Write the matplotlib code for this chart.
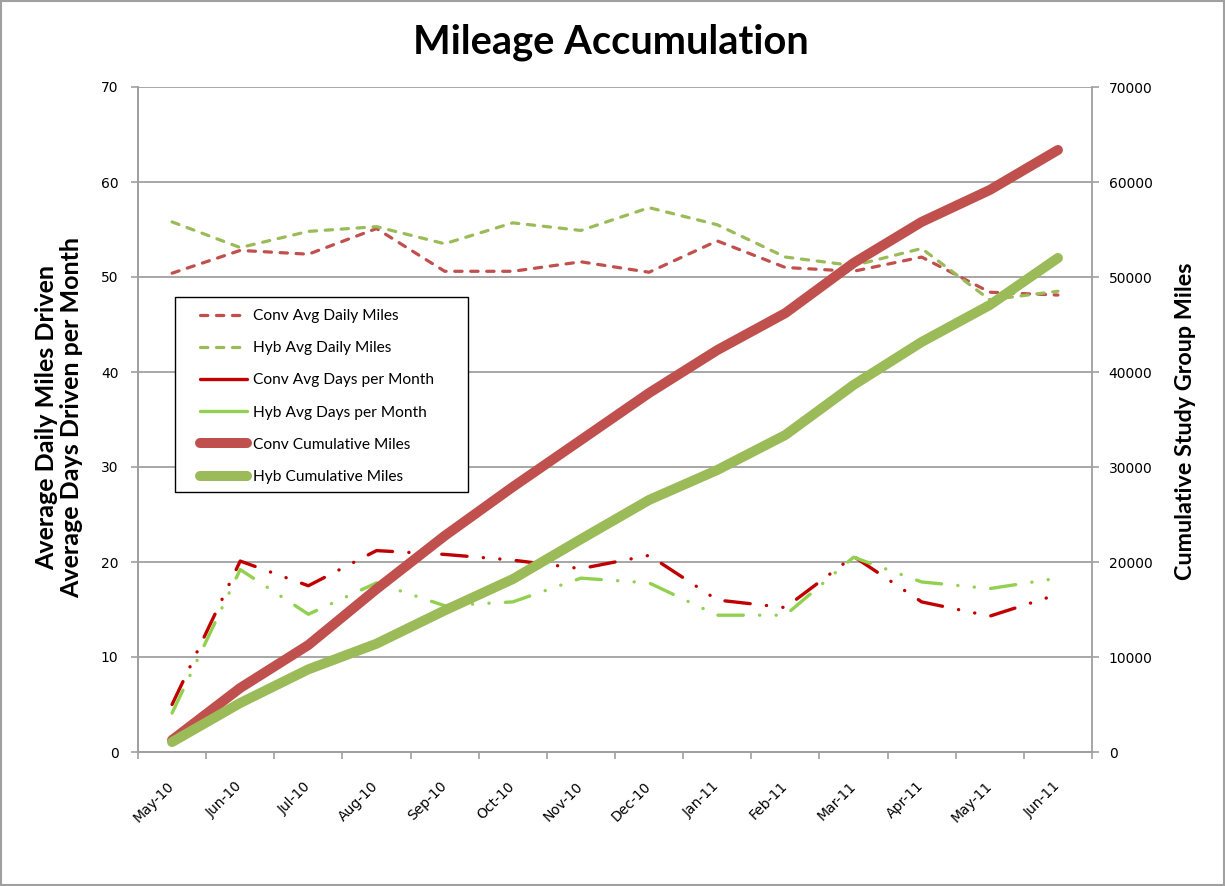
import matplotlib
matplotlib.use("Agg")
import matplotlib.pyplot as plt
from matplotlib.lines import Line2D
from matplotlib.patches import Rectangle
import numpy as np

months = ["May-10", "Jun-10", "Jul-10", "Aug-10", "Sep-10", "Oct-10", "Nov-10",
          "Dec-10", "Jan-11", "Feb-11", "Mar-11", "Apr-11", "May-11", "Jun-11"]

conv_daily = [50.4, 52.8, 52.4, 55.1, 50.6, 50.6, 51.6, 50.5, 53.8, 51.0, 50.6, 52.1, 48.4, 48.1]
hyb_daily = [55.8, 53.1, 54.8, 55.3, 53.5, 55.7, 54.9, 57.3, 55.5, 52.1, 51.2, 53.0, 47.6, 48.5]
conv_days = [5.0, 20.1, 17.5, 21.2, 20.8, 20.2, 19.3, 20.7, 16.0, 15.2, 20.6, 15.8, 14.3, 16.6]
hyb_days = [4.1, 19.2, 14.5, 17.8, 15.4, 15.8, 18.3, 17.8, 14.4, 14.4, 20.5, 17.9, 17.2, 18.3]
conv_cum = [1260, 6740, 11260, 17150, 22750, 27900, 32840, 37790, 42300, 46200, 51470, 55800, 59160, 63370]
hyb_cum = [1050, 5160, 8700, 11400, 14900, 18200, 22400, 26530, 29680, 33370, 38630, 43160, 47050, 52000]

labels = ["Conv Avg Daily Miles", "Hyb Avg Daily Miles", "Conv Avg Days per Month",
          "Hyb Avg Days per Month", "Conv Cumulative Miles", "Hyb Cumulative Miles"]

C_CONV = "#C0504D"
C_HYB = "#9BBB59"
C_CONV_D = "#C00000"
C_HYB_D = "#92D050"
GRID = "#A0A0A0"

W, H = 1225, 886
fig = plt.figure(figsize=(W / 100, H / 100), dpi=100)
ax = fig.add_axes([138 / W, 1 - 752 / H, (1092 - 138) / W, (752 - 87) / H])
ax2 = ax.twinx()

x = np.arange(len(months))

daily_dash = (2.3, 2.7)
days_dash = (7.6, 4.9, 0.05, 4.9, 0.05, 4.9)

ax.plot(x, conv_daily, color=C_CONV, lw=2.3, dashes=daily_dash, dash_capstyle="round", zorder=3)
ax.plot(x, hyb_daily, color=C_HYB, lw=2.3, dashes=daily_dash, dash_capstyle="round", zorder=3)
ax.plot(x, conv_days, color=C_CONV_D, lw=2.4, dashes=days_dash, dash_capstyle="round", zorder=3)
ax.plot(x, hyb_days, color=C_HYB_D, lw=2.4, dashes=days_dash, dash_capstyle="round", zorder=3)

ax2.plot(x, conv_cum, color=C_CONV, lw=7.2, solid_capstyle="round", solid_joinstyle="round", zorder=2)
ax2.plot(x, hyb_cum, color=C_HYB, lw=7.2, solid_capstyle="round", solid_joinstyle="round", zorder=2)

ax.set_xlim(-0.5, len(months) - 0.5)
ax.set_ylim(0, 70)
ax.set_yticks(np.arange(0, 71, 10))
ax2.set_ylim(0, 70000)
ax2.set_yticks(np.arange(0, 70001, 10000))

ax.set_xticks(np.arange(-0.5, len(months), 1.0))
ax.set_xticklabels([])
ax.set_xticks(x, minor=True)
ax.set_xticklabels(months, minor=True, rotation=45, ha="right", va="center",
                   rotation_mode="anchor", fontsize=10, family="DejaVu Sans")
ax.tick_params(axis="x", which="minor", length=0, pad=23)
ax.tick_params(axis="x", which="major", length=5, width=1.2, color=GRID, direction="out")
ax.tick_params(axis="y", length=5, width=1.2, color=GRID, direction="out", labelsize=10, pad=9)
ax2.tick_params(axis="y", length=5, width=1.2, color=GRID, direction="out", labelsize=10, pad=7)

ax.grid(axis="y", color=GRID, lw=1.3, zorder=0)
ax.set_axisbelow(True)
for a in (ax, ax2):
    a.spines["top"].set_visible(False)
    for s in ("left", "right", "bottom"):
        a.spines[s].set_color(GRID)
        a.spines[s].set_linewidth(1.3)
ax.spines["right"].set_visible(False)

ax2.set_zorder(ax.get_zorder() + 1)
ax2.patch.set_visible(False)

# legend box (white, black border) and legend entries
ax2.add_patch(Rectangle((175 / W, 1 - 492 / H), 293 / W, 195 / H, transform=fig.transFigure,
                        facecolor="white", edgecolor="black", lw=1.0, zorder=5, clip_on=False))
handles = [
    Line2D([], [], color=C_CONV, lw=2.3, dashes=daily_dash, dash_capstyle="round"),
    Line2D([], [], color=C_HYB, lw=2.3, dashes=daily_dash, dash_capstyle="round"),
    Line2D([], [], color=C_CONV_D, lw=2.4, solid_capstyle="round"),
    Line2D([], [], color=C_HYB_D, lw=2.4, solid_capstyle="round"),
    Line2D([], [], color=C_CONV, lw=7.2, solid_capstyle="round"),
    Line2D([], [], color=C_HYB, lw=7.2, solid_capstyle="round"),
]
leg = ax2.legend(handles, labels, loc="upper left",
                 bbox_to_anchor=(200 / W, 1 - 309 / H), bbox_transform=fig.transFigure,
                 prop={"family": "Lato", "size": 11.2}, frameon=False,
                 handlelength=3.0, handletextpad=0.4,
                 labelspacing=1.17, borderpad=0, borderaxespad=0)
leg.set_zorder(6)

fig.text(611 / W, 1 - 42 / H, "Mileage Accumulation", ha="center", va="center",
         fontsize=28.7, fontweight="bold", family="Lato")
fig.text(59 / W, 1 - 417 / H, "Average Daily Miles Driven\nAverage Days Driven per Month",
         ha="center", va="center", rotation=90, fontsize=18, fontweight="bold",
         family="Lato", linespacing=1.1)
fig.text(1185 / W, 1 - 421 / H, "Cumulative Study Group Miles", ha="center", va="center",
         rotation=90, fontsize=16.8, fontweight="bold", family="Lato")

fig.patches.append(Rectangle((0.001, 0.001), 0.998, 0.998, transform=fig.transFigure,
                             fill=False, edgecolor=GRID, lw=1.5))

fig.savefig("out.png", dpi=100)
